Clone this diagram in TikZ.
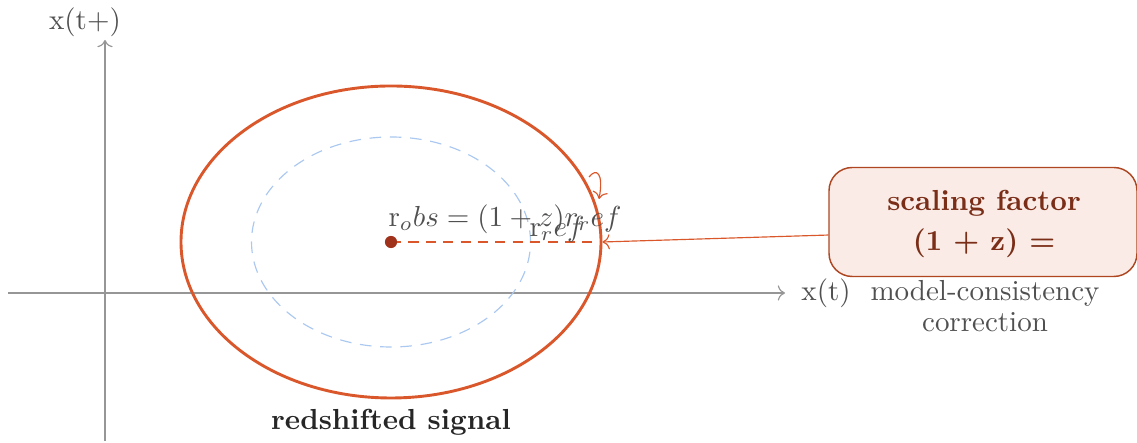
\documentclass[tikz,border=0pt]{standalone}
\usetikzlibrary{arrows.meta}
\definecolor{sigorange}{RGB}{217,87,43}
\definecolor{dotred}{RGB}{160,50,28}
\definecolor{boxfill}{RGB}{250,235,230}
\definecolor{boxtext}{RGB}{122,46,24}
\definecolor{refblue}{RGB}{170,200,240}
\definecolor{axisgray}{RGB}{150,150,150}
\definecolor{txtgray}{RGB}{80,80,80}
\tikzset{
  axisline/.style={draw=axisgray, line width=0.4pt, -{To[length=2.5pt]}},
  axislabel/.style={text=txtgray, inner sep=0pt},
  signal/.style={draw=sigorange, line width=1pt},
  refcurve/.style={draw=refblue, line width=0.4pt, dash pattern=on 4pt off 3pt},
  pointer/.style={draw=sigorange, line width=0.4pt, -{To[length=2.5pt]}},
  factorbox/.style={draw=sigorange!80!black, fill=boxfill, rounded corners=8pt, line width=0.5pt, text=boxtext, font=\bfseries, align=center},
  mathlabel/.style={text=txtgray, inner sep=0pt},
}
\begin{document}
\begin{tikzpicture}[x=0.345pt,y=-0.345pt]
\useasboundingbox (0,0) rectangle (1137,443);
% axes
\coordinate (xs) at (8,293);
\coordinate (xe) at (785,293);
\coordinate (ys) at (105,441);
\coordinate (ye) at (105,40);
\draw[axisline] (xs) -- (xe);
\draw[axisline] (ys) -- (ye);
\node[axislabel] (xl) at (826,293) {x(t)};
\node[axislabel] (yl) at (85,22) {x(t+)};
% curves
\coordinate (c) at (391,242);
\draw[refcurve] (c) ellipse [x radius=139.5*0.345pt, y radius=105*0.345pt];
\draw[signal] (c) ellipse [x radius=210*0.345pt, y radius=156*0.345pt];
\coordinate (rim) at (601,242);
\draw[draw=sigorange, line width=0.5pt, dash pattern=on 3.5pt off 2.5pt] (c) -- (rim);
\fill[dotred] (c) circle (2.1pt);
% labels
\node[mathlabel] (lobs) at (505,219) {r$_obs = (1+z) r_ref$};
\node[mathlabel] (lref) at (557,229) {r$_ref$};
% box
\node[factorbox, minimum width=308*0.345pt, minimum height=109*0.345pt] (box) at (983,222) {};
\node[text=boxtext, font=\bfseries, align=center, inner sep=0pt] (boxt) at (984,224) {scaling factor\\[2pt](1 + z) =};
\node[text=txtgray, align=center, inner sep=0pt] (note) at (985,306) {model-consistency\\[-1.5pt]correction};
\draw[pointer] ([yshift=-4.5pt]box.west) -- ([xshift=0.5pt]rim);
\coordinate (ca) at (589,177);
\coordinate (cb) at (599,199);
\draw[pointer] (ca) .. controls (596,168) and (604,172) .. (cb);
\node[text=black!85, font=\bfseries, inner sep=0pt] (sig) at (391,422) {redshifted signal};
\end{tikzpicture}
\end{document}
